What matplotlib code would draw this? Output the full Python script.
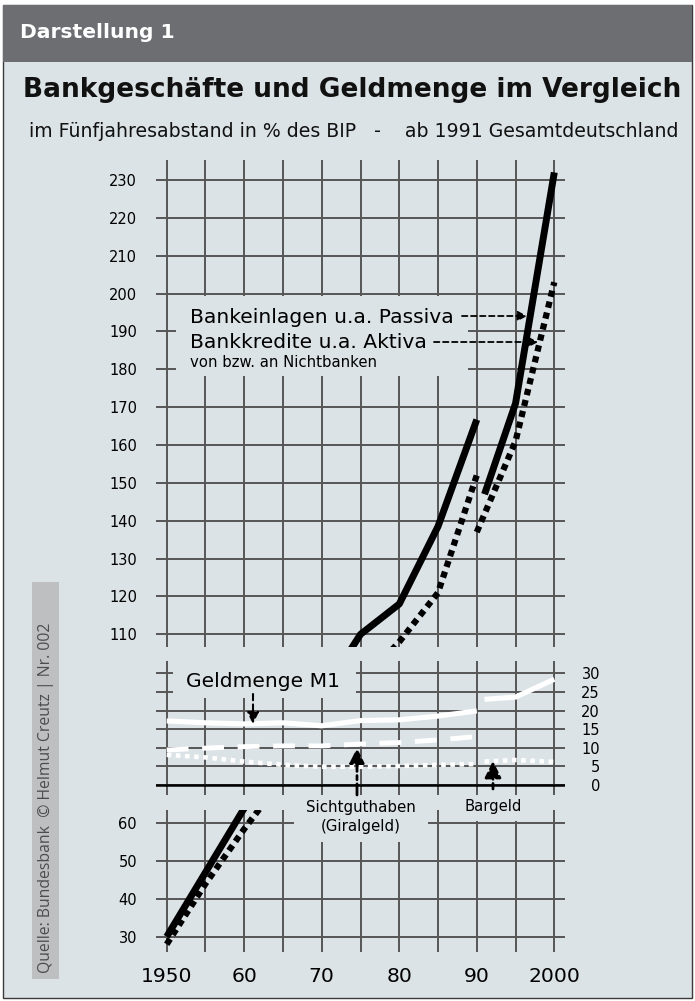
import matplotlib.pyplot as plt
from matplotlib.patches import Rectangle, FancyArrowPatch

W, H = 695, 1001
BG = '#dce3e6'
HEAD = '#6d6e72'
GRID = '#565656'

# Werte in % des BIP
jahre = [1950, 1955, 1960, 1965, 1970, 1975, 1980, 1985, 1990]
jahre_einlagen_neu = [1991, 1995, 2000]
jahre_kredite_neu = [1990, 1995, 2000]
jahre_m1_neu = [1991, 1995, 2000]

einlagen_alt = [30, 47, 64, 78, 94, 110, 118, 138.5, 166.7]
einlagen_neu = [147, 171, 232]
kredite_alt = [28, 44, 58.5, 72, 86, 97, 108, 121, 152]
kredite_neu = [137, 161, 203]

m1_alt = [17.2, 16.7, 16.4, 16.7, 15.9, 17.3, 17.5, 18.5, 19.9]
m1_neu = [23.0, 23.6, 28.4]
sicht_alt = [9.4, 9.9, 10.3, 10.5, 10.5, 11.0, 11.4, 12.1, 13.0]
bargeld_alt = [8.1, 7.4, 6.3, 5.4, 4.9, 4.9, 5.1, 5.4, 5.6]
bargeld_neu = [6.3, 6.7, 6.2]

x_ticks = list(range(1950, 2001, 5))
x_labels = ['1950', '', '60', '', '70', '', '80', '', '90', '', '2000']
y_oben = list(range(110, 231, 10))
y_mitte = list(range(0, 31, 5))
y_unten = list(range(30, 61, 10))

plt.rcParams['font.family'] = ['DejaVu Sans']

fig = plt.figure(figsize=(W / 100, H / 100), dpi=100, facecolor='white')


def fx(x):
    return x / W


def fy(y):
    return 1 - y / H


def fig_rect(x0, y0, x1, y1, **kw):
    return Rectangle((fx(x0), fy(y1)), fx(x1) - fx(x0), fy(y0) - fy(y1),
                     transform=fig.transFigure, **kw)


# Rahmen und Kopfzeile
fig.add_artist(fig_rect(3, 5, 692, 998, fc=BG, ec='#3a3a3a', lw=1, zorder=-10))
fig.add_artist(fig_rect(3, 5, 692, 62, fc=HEAD, ec='none', zorder=-9))
fig.text(fx(20), fy(38), 'Darstellung 1', color='white', fontsize=14.6,
         fontweight='bold', va='baseline')

fig.text(fx(352), fy(97), 'Bankgeschäfte und Geldmenge im Vergleich',
         fontsize=19, fontweight='bold', ha='center', va='baseline', color='#111111')
fig.text(fx(354), fy(137),
         'im Fünfjahresabstand in % des BIP   -    ab 1991 Gesamtdeutschland',
         fontsize=13.6, ha='center', va='baseline', color='#111111')


def panel(y0, y1, ylim):
    ax = fig.add_axes([fx(156), fy(y1), fx(565) - fx(156), fy(y0) - fy(y1)])
    ax.set_facecolor('none')
    for s in ax.spines.values():
        s.set_visible(False)
    ax.set_xlim(1948.62, 2001.38)
    ax.set_ylim(*ylim)
    ax.set_xticks(x_ticks)
    ax.grid(True, color=GRID, lw=1.4)
    ax.tick_params(length=0, labelsize=10.5)
    return ax


def mask(ax, x0, y0, x1, y1):
    ax.add_patch(fig_rect(x0, y0, x1, y1, fc=BG, ec='none', zorder=1.8))


oben = panel(160, 647, (106.65, 235.28))
mitte = panel(661, 795, (-2.69, 33.3))
unten = panel(810, 952, (25.95, 63.52))

oben.set_yticks(y_oben)
oben.tick_params(labelbottom=False, pad=13.7)
unten.set_yticks(y_unten)
unten.set_xticklabels(x_labels, fontsize=14.6)
unten.tick_params(axis='y', pad=13.7)
unten.tick_params(axis='x', pad=11)

mitte.set_yticks(y_mitte)
mitte.yaxis.tick_right()
mitte.tick_params(labelbottom=False, pad=25.2)
for t in mitte.get_yticklabels():
    t.set_horizontalalignment('right')
mitte.axhline(0, color='black', lw=1.8, zorder=1.9)

# Bankeinlagen / Bankkredite (gebrochene Achse: oben + unten)
for ax in (oben, unten):
    ax.plot(jahre, einlagen_alt, color='black', lw=5, solid_capstyle='butt', zorder=3)
    ax.plot(jahre_einlagen_neu, einlagen_neu, color='black', lw=5,
            solid_capstyle='butt', zorder=3)
    ax.plot(jahre, kredite_alt, color='black', lw=4.5, ls=(0, (1, 0.8)),
            dash_capstyle='butt', zorder=3)
    ax.plot(jahre_kredite_neu, kredite_neu, color='black', lw=4.5, ls=(0, (1, 0.8)),
            dash_capstyle='butt', zorder=3)

# Geldmenge M1
mitte.plot(jahre, m1_alt, color='white', lw=3.7, solid_capstyle='butt', zorder=3)
mitte.plot(jahre_m1_neu, m1_neu, color='white', lw=3.7, solid_capstyle='butt', zorder=3)
mitte.plot(jahre, sicht_alt, color='white', lw=3.5, ls=(0, (4.5, 2.8)),
           dash_capstyle='butt', zorder=3)
mitte.plot(jahre, bargeld_alt, color='white', lw=3.3, ls=(0, (1, 1)),
           dash_capstyle='butt', zorder=3)
mitte.plot(jahre_m1_neu, bargeld_neu, color='white', lw=3.3, ls=(0, (1, 1)),
           dash_capstyle='butt', zorder=3)

# Aussparungen im Gitter hinter den Beschriftungen
mask(oben, 176, 296, 468, 376)
mask(mitte, 173, 655, 356, 698)
mask(unten, 294, 800, 428, 842)
mask(unten, 445, 800, 545, 821)

fig.text(fx(190), fy(323), 'Bankeinlagen u.a. Passiva', fontsize=14.6, va='baseline')
fig.text(fx(190), fy(348), 'Bankkredite u.a. Aktiva', fontsize=14.6, va='baseline')
fig.text(fx(190), fy(367), 'von bzw. an Nichtbanken', fontsize=10.7, va='baseline')
fig.text(fx(186), fy(687), 'Geldmenge M1', fontsize=14.6, va='baseline')
fig.text(fx(361), fy(812), 'Sichtguthaben', fontsize=10.8, ha='center', va='baseline')
fig.text(fx(361), fy(831), '(Giralgeld)', fontsize=10.8, ha='center', va='baseline')
fig.text(fx(493), fy(811), 'Bargeld', fontsize=10.6, ha='center', va='baseline')


def pfeil(x0, y0, x1, y1, hl, hw, lw=1.3, ls=(0, (3, 2))):
    fig.add_artist(FancyArrowPatch(
        (fx(x0), fy(y0)), (fx(x1), fy(y1)), transform=fig.transFigure,
        arrowstyle=f'-|>,head_length={hl},head_width={hw}', mutation_scale=10,
        lw=lw, ls=ls, color='black', shrinkA=0, shrinkB=0, zorder=5))


pfeil(462, 316, 527, 316, 0.55, 0.3)
pfeil(434, 342, 538, 342, 0.55, 0.3)
pfeil(253, 694, 253, 724, 0.7, 0.35, lw=1.5)
pfeil(357, 795, 357, 748, 0.9, 0.45, lw=2, ls=(0, (4, 1.5, 1.5, 1.5)))
pfeil(493, 789, 493, 761, 1.0, 0.5, lw=2, ls=(0, (2, 1.5)))

# Quelle, senkrecht
fig.add_artist(fig_rect(32, 582, 59, 979, fc='#bdbfc1', ec='none', zorder=-8))
fig.text(fx(46), fy(798), 'Quelle: Bundesbank  © Helmut Creutz | Nr. 002',
         rotation=90, ha='center', va='center', fontsize=11.3, color='#4d4d4f',
         family=['Open Sans', 'DejaVu Sans'])

fig.savefig('out.png', dpi=100)
